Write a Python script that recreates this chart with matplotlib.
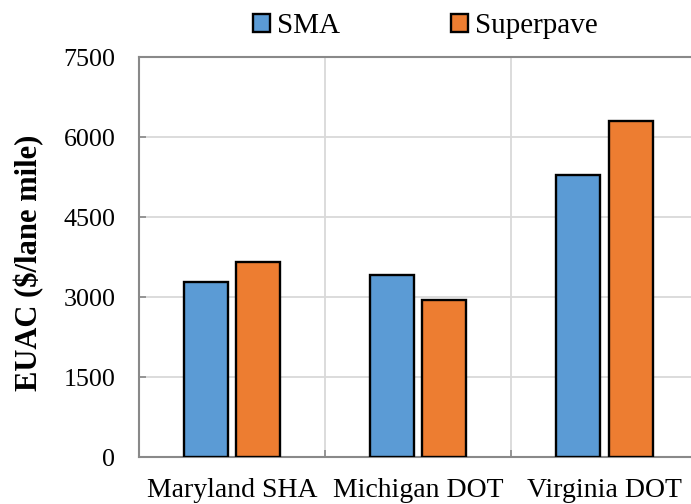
import matplotlib
matplotlib.use("Agg")
import matplotlib.pyplot as plt
from matplotlib.patches import Patch
import numpy as np

categories = ["Maryland SHA", "Michigan DOT", "Virginia DOT"]
sma = [3290, 3420, 5300]
superpave = [3650, 2955, 6300]
series_names = ["SMA", "Superpave"]
yticks = [0, 1500, 3000, 4500, 6000, 7500]

plt.rcParams['font.family'] = ['Liberation Serif', 'DejaVu Serif']

W, H = 691, 504
fig = plt.figure(figsize=(W / 100, H / 100), dpi=100)
ax_left, ax_right, ax_top, ax_bottom = 139, 700, 57.3, 457
ax = fig.add_axes([ax_left / W, (H - ax_bottom) / H,
                   (ax_right - ax_left) / W, (ax_bottom - ax_top) / H])

x = np.arange(len(categories))
bw = 0.237
off = 0.14
blue = "#5B9BD5"
orange = "#ED7D31"
ax.bar(x - off, sma, bw, color=blue, edgecolor="black", linewidth=1.7, zorder=3)
ax.bar(x + off, superpave, bw, color=orange, edgecolor="black", linewidth=1.7, zorder=3)

cat_w = (513.6 - 327.4)
ax.set_xlim(-0.5, -0.5 + (ax_right - ax_left) / cat_w)
ax.set_ylim(0, 7500)
ax.set_yticks(yticks)
ax.set_yticklabels([str(v) for v in yticks], fontsize=18.7)
ax.set_xticks(x)
ax.set_xticklabels(categories, fontsize=20)
ax.set_xticks(np.arange(0.5, len(categories), 1.0), minor=True)

grid_c = "#D9D9D9"
ax.yaxis.grid(True, color=grid_c, linewidth=1.3, zorder=0)
ax.xaxis.grid(True, which="minor", color=grid_c, linewidth=1.3, zorder=0)
ax.xaxis.grid(False, which="major")

spine_c = "#898989"
for s in ["left", "bottom", "top"]:
    ax.spines[s].set_color(spine_c)
    ax.spines[s].set_linewidth(1.5)
ax.spines["right"].set_visible(False)

ax.tick_params(axis="y", direction="in", length=5, color=spine_c, width=1.2, pad=17)
ax.tick_params(axis="x", which="major", length=0, pad=15)
ax.tick_params(axis="x", which="minor", direction="in", length=5, color=spine_c, width=1.2)

ax.set_ylabel("EUAC ($/lane mile)", fontsize=22, fontweight="bold")
ax.yaxis.set_label_coords((44 - ax_left) / (ax_right - ax_left), 0.485)

handles = [Patch(facecolor=blue, edgecolor="black", linewidth=1.7),
           Patch(facecolor=orange, edgecolor="black", linewidth=1.7)]
fig.legend(handles, series_names, loc="center", bbox_to_anchor=(425.5 / W, 1 - 26 / H),
           ncol=2, frameon=False, fontsize=21, handlelength=0.58, handleheight=0.58,
           handletextpad=0.25, columnspacing=3.8, borderpad=0)

fig.savefig("out.png", dpi=100)
